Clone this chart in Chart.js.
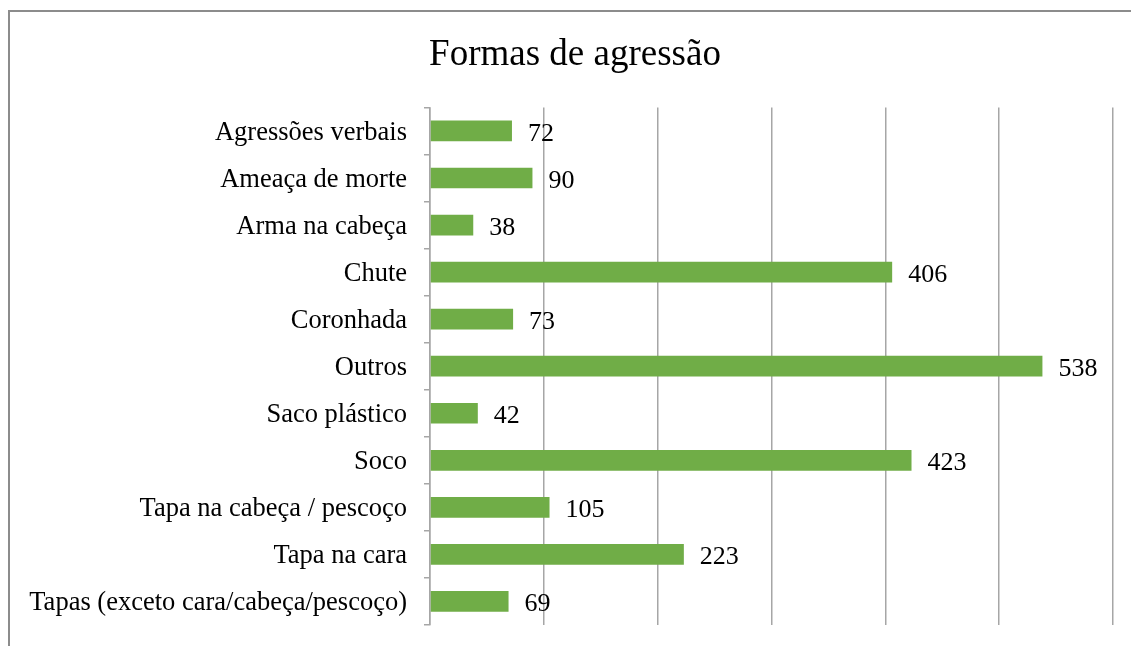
<!DOCTYPE html>
<html lang="pt">
<head>
    <meta charset="UTF-8">
    <title>Formas de agressão</title>
    <style>
        * {
            margin: 0;
            padding: 0;
            box-sizing: border-box;
        }

        body {
            width: 1131px;
            height: 646px;
            overflow: hidden;
            background: #fff;
            position: relative;
        }

        /* chart frame, clipped on the right and bottom like the original */
        .frame {
            position: absolute;
            left: 8px;
            top: 10px;
            width: 1200px;
            height: 700px;
            border-top: 2px solid #8c8c8c;
            border-left: 2px solid #8c8c8c;
        }

        #chart {
            position: absolute;
            left: 0;
            top: 0;
        }
    </style>
    <script src="https://cdn.jsdelivr.net/npm/chart.js"></script>
</head>
<body>
    <div class="frame"></div>
    <!-- canvas runs past the window edge so the title centres like the original -->
    <canvas id="chart" width="1150" height="646"></canvas>
    <script>
        // data
        const categories = [
            'Agressões verbais',
            'Ameaça de morte',
            'Arma na cabeça',
            'Chute',
            'Coronhada',
            'Outros',
            'Saco plástico',
            'Soco',
            'Tapa na cabeça / pescoço',
            'Tapa na cara',
            'Tapas (exceto cara/cabeça/pescoço)'
        ];
        const counts = [72, 90, 38, 406, 73, 538, 42, 423, 105, 223, 69];
        const axisMax = 600;
        const axisStep = 100;

        const serif = "'Liberation Serif', 'DejaVu Serif', serif";
        const gridGrey = '#a6a6a6';

        // draws the number just after each bar end
        const valueLabels = {
            id: 'valueLabels',
            afterDatasetsDraw(chart) {
                const ctx = chart.ctx;
                const meta = chart.getDatasetMeta(0);
                ctx.save();
                ctx.font = '26px ' + serif;
                ctx.fillStyle = '#000';
                ctx.textAlign = 'left';
                ctx.textBaseline = 'middle';
                meta.data.forEach((bar, i) => {
                    ctx.fillText(String(counts[i]), bar.x + 16, bar.y + 3);
                });
                ctx.restore();
            }
        };

        new Chart(document.getElementById('chart'), {
            type: 'bar',
            data: {
                labels: categories,
                datasets: [{
                    data: counts,
                    backgroundColor: '#70ad47',
                    borderWidth: 0,
                    categoryPercentage: 1,
                    barPercentage: 0.44
                }]
            },
            options: {
                indexAxis: 'y',
                responsive: false,
                animation: false,
                layout: {
                    padding: { left: 0, top: 0, right: 0, bottom: 21 }
                },
                plugins: {
                    legend: { display: false },
                    tooltip: { enabled: false },
                    title: {
                        display: true,
                        text: 'Formas de agressão',
                        color: '#000',
                        font: { family: serif, size: 37, weight: 'normal' },
                        padding: { top: 33, bottom: 30 }
                    }
                },
                scales: {
                    x: {
                        min: 0,
                        max: axisMax,
                        afterFit(scale) {
                            scale.paddingRight = 37;
                        },
                        ticks: { display: false, stepSize: axisStep },
                        grid: {
                            color: gridGrey,
                            lineWidth: 1.5,
                            drawTicks: false
                        },
                        border: { display: false }
                    },
                    y: {
                        afterFit(scale) {
                            scale.width = 430;
                            scale.paddingTop = 0;
                            scale.paddingBottom = 0;
                        },
                        ticks: {
                            color: '#000',
                            padding: 17,
                            labelOffset: 2,
                            font: { family: serif, size: 26.5 }
                        },
                        grid: {
                            offset: true,
                            drawOnChartArea: false,
                            tickLength: 6,
                            color: gridGrey,
                            lineWidth: 1.5
                        },
                        border: { color: gridGrey, width: 1.5 }
                    }
                }
            },
            plugins: [valueLabels]
        });
    </script>
</body>
</html>
